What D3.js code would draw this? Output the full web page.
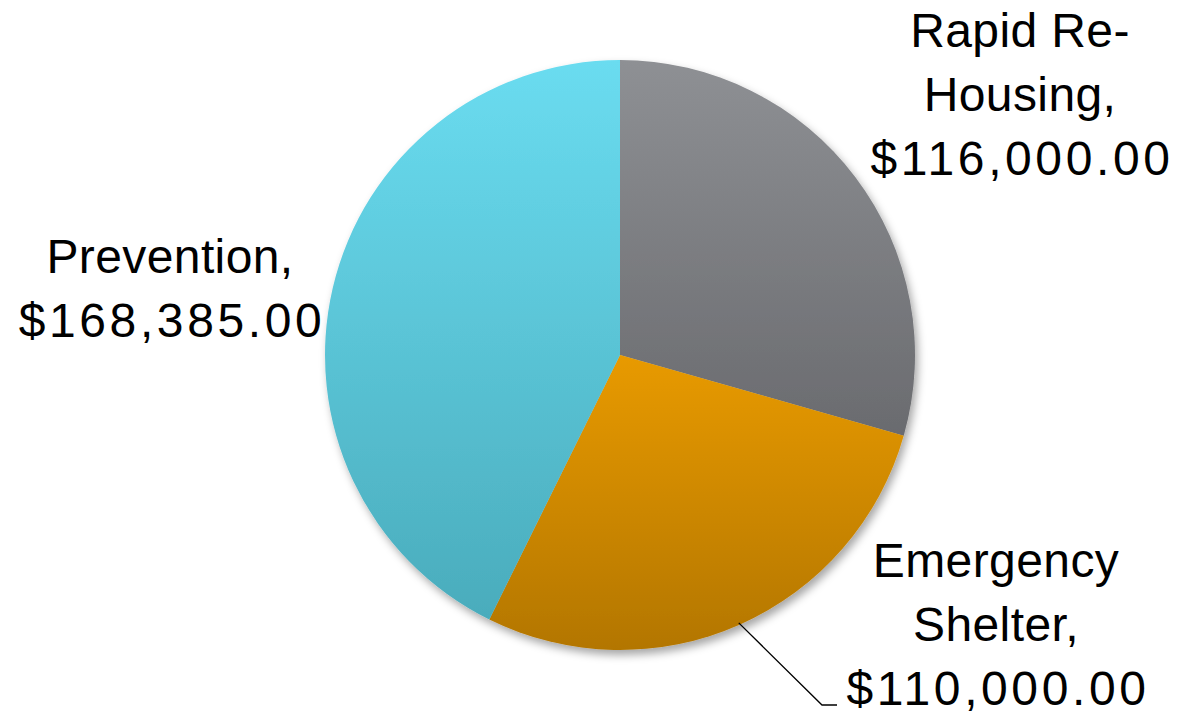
<!DOCTYPE html>
<html><head><meta charset="utf-8">
<script src="https://cdn.jsdelivr.net/npm/d3@7"></script>
<style>body{margin:0;background:#fff}svg{display:block}</style>
</head><body>
<svg id="c" width="1177" height="715"></svg>
<script>
const categories = ["Rapid Re-Housing", "Emergency Shelter", "Prevention"];
const values = [116000, 110000, 168385];
const labelLines = [["Rapid Re-", "Housing,"], ["Emergency", "Shelter,"], ["Prevention,"]];
const topColors = ["#8e9094", "#e89a00", "#6adcf0"];
const bottomColors = ["#6a6b6f", "#b37600", "#4aacbc"];

const svg = d3.select("#c");
const cx = 620, cy = 355, r = 295;
const defs = svg.append("defs");
const f = defs.append("filter").attr("id","sh").attr("x","-10%").attr("y","-10%").attr("width","130%").attr("height","130%");
f.append("feDropShadow").attr("dx",3).attr("dy",5).attr("stdDeviation",4).attr("flood-color","#000").attr("flood-opacity",0.35);
categories.forEach((c,i)=>{
  const g = defs.append("linearGradient").attr("id","g"+i).attr("x1",0).attr("y1",0).attr("x2",0).attr("y2",1);
  g.append("stop").attr("offset","0%").attr("stop-color",topColors[i]);
  g.append("stop").attr("offset","100%").attr("stop-color",bottomColors[i]);
});
const pie = d3.pie().sort(null).value(d=>d)(values);
const arc = d3.arc().innerRadius(0).outerRadius(r);
const g = svg.append("g").attr("transform",`translate(${cx},${cy})`).attr("filter","url(#sh)");
g.selectAll("path").data(pie).join("path").attr("d",arc).attr("fill",(d,i)=>`url(#g${i})`);

const fmt = d3.format("$,.2f");
const labelPos = [{x:1020,y:47},{x:996,y:577},{x:170,y:273}];
const lh = 64;
const fs = 48;
pie.forEach((d,i)=>{
  const lines = labelLines[i].concat([fmt(values[i])]);
  const t = svg.append("text").attr("font-family","'Liberation Sans', Arial, sans-serif").attr("font-size",fs).attr("fill","#000").attr("text-anchor","middle");
  lines.forEach((l,j)=>{
    const isNum = j === lines.length-1;
    t.append("tspan").attr("x",labelPos[i].x + (isNum?2:0)).attr("y",labelPos[i].y + j*lh)
      .attr("letter-spacing", isNum ? 3.6 : 0.4).text(l);
  });
});
// leader line for Emergency Shelter
const ang = (pie[1].startAngle+pie[1].endAngle)/2;
const p0 = [cx + Math.sin(ang)*(r-2), cy - Math.cos(ang)*(r-2)];
svg.append("polyline").attr("points",`${p0[0]},${p0[1]} 822,705 837,705`).attr("fill","none").attr("stroke","#000").attr("stroke-width",1.3);
</script>
</body></html>
